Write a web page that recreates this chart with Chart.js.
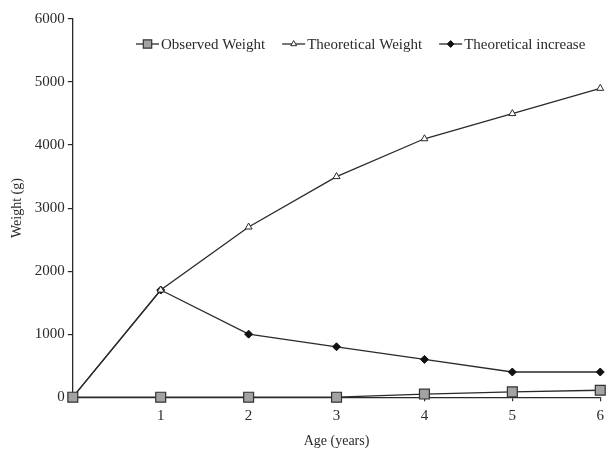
<!DOCTYPE html>
<html>
<head>
<meta charset="utf-8">
<script src="https://cdn.jsdelivr.net/npm/chart.js@4.4.1/dist/chart.umd.min.js"></script>
<style>
  html, body { margin: 0; padding: 0; background: #fff; }
  #wrap { width: 610px; height: 453px; }
</style>
</head>
<body>
<div id="wrap"><canvas id="chart" width="610" height="453"></canvas></div>
<script>
// data
const ages = [0, 1, 2, 3, 4, 5, 6];
const observedWeight = [0, 0, 0, 0, 50, 85, 110];
const theoreticalWeight = [0, 1700, 2700, 3500, 4100, 4500, 4900];
const theoreticalIncrease = [0, 1700, 1000, 800, 600, 400, 400];
const seriesNames = ["Observed Weight", "Theoretical Weight", "Theoretical increase"];

const FONT = '"Liberation Serif", "Times New Roman", serif';
const INK = "#2a2a2a";

function toPoints(vals) {
    return ages.map((a, i) => ({ x: a, y: vals[i] }));
}

// legend drawn inside the plot, near the top (like the original)
const inlineLegend = {
    id: "inlineLegend",
    afterDraw(chart) {
        const ctx = chart.ctx;
        let x = 136;
        const y = 44;
        ctx.save();
        ctx.font = "15px " + FONT;
        ctx.textBaseline = "middle";
        chart.data.datasets.forEach(ds => {
            ctx.strokeStyle = ds.borderColor;
            ctx.lineWidth = ds.borderWidth;
            ctx.beginPath();
            ctx.moveTo(x, y);
            ctx.lineTo(x + 23, y);
            ctx.stroke();
            ctx.fillStyle = ds.pointBackgroundColor;
            ctx.strokeStyle = ds.pointBorderColor;
            ctx.lineWidth = ds.pointBorderWidth;
            Chart.helpers.drawPoint(ctx, {
                pointStyle: ds.pointStyle,
                radius: ds.pointRadius * 0.85,
                borderWidth: ds.pointBorderWidth,
                rotation: 0
            }, x + 11.5, y);
            ctx.fillStyle = INK;
            ctx.fillText(ds.label, x + 25, y + 1);
            x += 25 + ctx.measureText(ds.label).width + 17;
        });
        ctx.restore();
    }
};

new Chart(document.getElementById("chart"), {
    type: "line",
    data: {
        datasets: [
            {
                label: seriesNames[0],
                data: toPoints(observedWeight),
                borderColor: INK,
                borderWidth: 1.3,
                pointStyle: "rect",
                pointRadius: 7,
                pointBackgroundColor: "#a3a3a3",
                pointBorderColor: "#333",
                pointBorderWidth: 1.2,
                clip: false
            },
            {
                label: seriesNames[1],
                data: toPoints(theoreticalWeight),
                borderColor: INK,
                borderWidth: 1.3,
                pointStyle: "triangle",
                pointRadius: 4,
                pointBackgroundColor: "#fff",
                pointBorderColor: INK,
                pointBorderWidth: 1,
                clip: false
            },
            {
                label: seriesNames[2],
                data: toPoints(theoreticalIncrease),
                borderColor: INK,
                borderWidth: 1.3,
                pointStyle: "rectRot",
                pointRadius: 4,
                pointBackgroundColor: "#111",
                pointBorderColor: "#111",
                pointBorderWidth: 1,
                clip: false
            }
        ]
    },
    options: {
        responsive: false,
        animation: false,
        layout: { padding: { top: 19, right: 6, bottom: 3, left: 9 } },
        plugins: {
            legend: { display: false },
            tooltip: { enabled: false }
        },
        scales: {
            x: {
                type: "linear",
                min: 0,
                max: 6,
                border: { color: INK, width: 1.3 },
                grid: { drawOnChartArea: false, color: INK, tickLength: 4, lineWidth: 1.2 },
                ticks: {
                    stepSize: 1,
                    color: INK,
                    font: { family: FONT, size: 15 },
                    padding: 6,
                    callback: v => (v === 0 ? "" : String(v))
                },
                title: {
                    display: true,
                    text: "Age (years)",
                    color: INK,
                    font: { family: FONT, size: 14 },
                    padding: { top: 2, bottom: 0 }
                }
            },
            y: {
                min: 0,
                max: 6000,
                border: { color: INK, width: 1.3 },
                grid: { drawOnChartArea: false, color: INK, tickLength: 5, lineWidth: 1.2 },
                ticks: {
                    stepSize: 1000,
                    color: INK,
                    font: { family: FONT, size: 15 },
                    padding: 3,
                    callback: v => String(v)
                },
                title: {
                    display: true,
                    text: "Weight (g)",
                    color: INK,
                    font: { family: FONT, size: 14 },
                    padding: { top: 0, bottom: 6 }
                }
            }
        }
    },
    plugins: [inlineLegend]
});
</script>
</body>
</html>
